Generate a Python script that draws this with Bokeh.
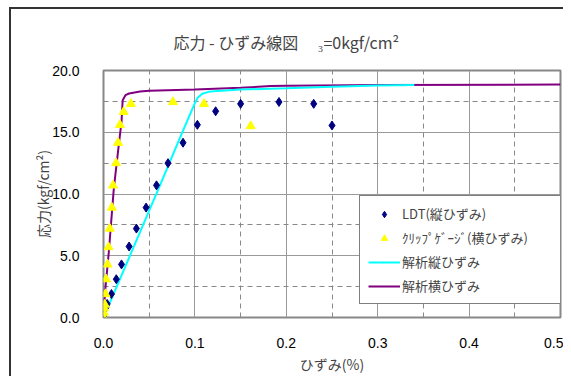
from bokeh.plotting import figure
from bokeh.models import Range1d, Legend, LegendItem, SingleIntervalTicker, NumeralTickFormatter
from bokeh.embed import file_html
from bokeh.resources import INLINE

# ---- data ----
ldt_x = [0.000, 0.0025, 0.004, 0.0087, 0.014, 0.0197, 0.028, 0.036, 0.0466, 0.058,
         0.0706, 0.087, 0.1027, 0.1227, 0.150, 0.192, 0.230, 0.250]
ldt_y = [0.1, 0.8, 1.1, 1.9, 3.1, 4.3, 5.75, 7.2, 8.9, 10.7,
         12.5, 14.15, 15.6, 16.7, 17.3, 17.45, 17.3, 15.55]

clip_x = [0.0000, 0.0003, 0.0007, 0.0014, 0.0022, 0.0028, 0.0044, 0.0055, 0.0069, 0.0091,
          0.0105, 0.0138, 0.016, 0.018, 0.022, 0.030, 0.076, 0.110, 0.161]
clip_y = [0.0, 0.4, 0.75, 1.05, 1.9, 3.1, 4.3, 5.7, 7.2, 8.9,
          10.7, 12.5, 14.15, 15.6, 16.65, 17.3, 17.45, 17.3, 15.5]

ana_v_x = [0.0, 0.0604, 0.0834, 0.099, 0.103, 0.108, 0.115, 0.125, 0.150, 0.200, 0.250, 0.300, 0.340]
ana_v_y = [0.0, 10.45, 14.5, 17.2, 17.8, 18.12, 18.27, 18.35, 18.46, 18.56, 18.68, 18.78, 18.82]

ana_h_x = [0.0, 0.002, 0.0058, 0.0113, 0.0167, 0.0197, 0.021, 0.024, 0.028, 0.040,
           0.050, 0.100, 0.150, 0.183, 0.200, 0.300, 0.500]
ana_h_y = [0.0, 2.3, 5.3, 10.45, 13.95, 15.85, 17.6, 18.0, 18.14, 18.3,
           18.36, 18.46, 18.6, 18.74, 18.77, 18.82, 18.86]

title_text = "応力 - ひずみ線図　 ₃=0kgf/cm²"
x_label = "ひずみ(%)"
y_label = "応力(kgf/cm²)"
legend_labels = ["LDT(縦ひずみ)", "ｸﾘｯﾌﾟｹﾞｰｼﾞ(横ひずみ)", "解析縦ひずみ", "解析横ひずみ"]

JP = "Noto Sans CJK JP"
LAT = "Liberation Sans"

p = figure(output_backend="svg", toolbar_location=None,
           x_range=Range1d(0, 0.5), y_range=Range1d(0, 20),
           frame_width=457, frame_height=247,
           min_border_left=92, min_border_right=3, min_border_top=61, min_border_bottom=58)

p.title.text = title_text
p.title.text_font = JP
p.title.text_font_size = "16px"
p.title.text_font_style = "normal"
p.title.align = "left"
p.title.offset = 70
p.title.standoff = 34

p.background_fill_color = "white"
p.border_fill_color = "white"
p.outline_line_color = "#888888"
p.outline_line_width = 2

for ax in (p.xaxis[0], p.yaxis[0]):
    ax.axis_line_color = None
    ax.major_tick_line_color = None
    ax.minor_tick_line_color = None
    ax.major_label_text_font = LAT
    ax.major_label_text_font_size = "14px"
    ax.major_label_text_color = "black"
    ax.axis_label_text_font = JP
    ax.axis_label_text_font_size = "14px"
    ax.axis_label_text_font_style = "normal"

p.xaxis[0].ticker = SingleIntervalTicker(interval=0.1, num_minor_ticks=2)
p.yaxis[0].ticker = SingleIntervalTicker(interval=5, num_minor_ticks=2)
p.xaxis[0].formatter = NumeralTickFormatter(format="0.0")
p.yaxis[0].formatter = NumeralTickFormatter(format="0.0")
p.xaxis[0].major_label_standoff = 14
p.yaxis[0].major_label_standoff = 18
p.xaxis[0].axis_label = x_label
p.yaxis[0].axis_label = y_label
p.xaxis[0].axis_label_standoff = 3
p.yaxis[0].axis_label_standoff = -4

for g in (p.xgrid[0], p.ygrid[0]):
    g.grid_line_color = "#999999"
    g.grid_line_width = 1
    g.minor_grid_line_color = "#888888"
    g.minor_grid_line_dash = "5 4"
    g.minor_grid_line_width = 1

r_hv = p.line(ana_h_x, ana_h_y, line_color="#800080", line_width=2)
r_v = p.line(ana_v_x, ana_v_y, line_color="#00FFFF", line_width=2)
r_ldt = p.scatter(ldt_x, ldt_y, marker="diamond", size=9, fill_color="#000080", line_color="#000080")
r_clip = p.scatter(clip_x, clip_y, marker="triangle", size=9, fill_color="#FFFF00", line_color="#FFFF00")

legend = Legend(items=[
    LegendItem(label=legend_labels[0], renderers=[r_ldt]),
    LegendItem(label=legend_labels[1], renderers=[r_clip]),
    LegendItem(label=legend_labels[2], renderers=[r_v]),
    LegendItem(label=legend_labels[3], renderers=[r_hv]),
], location=(256, 13))
legend.label_text_font = JP
legend.label_text_font_size = "13px"
legend.glyph_width = 32
legend.glyph_height = 16
legend.label_height = 16
legend.label_width = 152
legend.label_standoff = 2
legend.spacing = 5
legend.padding = 8
legend.margin = 0
legend.border_line_color = "black"
legend.border_line_width = 1
legend.background_fill_alpha = 1
p.add_layout(legend, "center")

p.styles = {"border-left": "2px solid #333333", "border-top": "2px solid #333333",
            "margin-left": "9px", "margin-top": "7px"}

open("out.html", "w").write(file_html(p, INLINE))
